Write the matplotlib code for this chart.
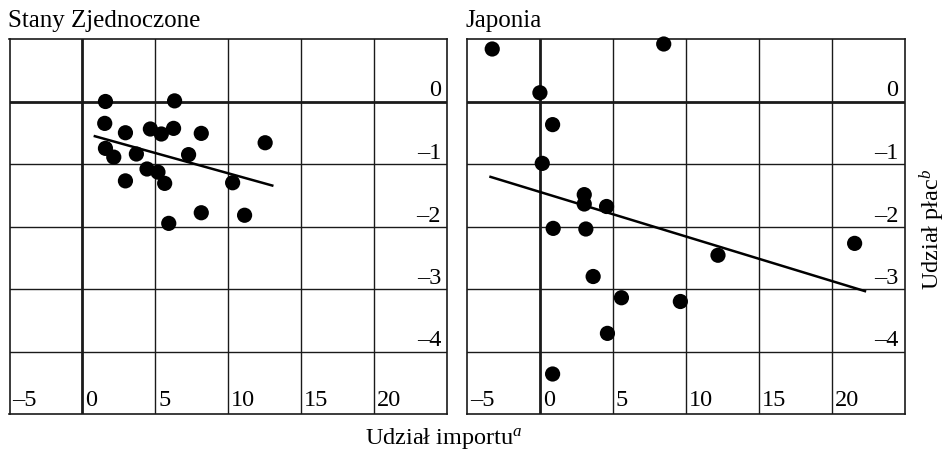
import matplotlib
matplotlib.use("Agg")
import matplotlib.pyplot as plt
import matplotlib.transforms as mtransforms

plt.rcParams['font.family'] = ['Liberation Serif', 'DejaVu Serif']
plt.rcParams['mathtext.fontset'] = 'custom'
plt.rcParams['mathtext.rm'] = 'Liberation Serif'
plt.rcParams['mathtext.it'] = 'Liberation Serif:italic'

# ---- data ----
us_x = [1.58, 6.32, 1.53, 2.95, 4.66, 5.41, 6.25, 8.15, 12.53, 1.58, 2.15,
        3.70, 7.28, 4.43, 5.18, 5.64, 2.95, 10.30, 8.15, 11.12, 5.92]
us_y = [0.00, 0.01, -0.35, -0.50, -0.44, -0.52, -0.43, -0.51, -0.66, -0.75, -0.89,
        -0.84, -0.85, -1.08, -1.13, -1.31, -1.27, -1.30, -1.78, -1.82, -1.95]
us_fit_x = [0.77, 13.1]
us_fit_y = [-0.55, -1.35]

jp_x = [-3.27, 8.49, 0.00, 0.87, 0.16, 3.04, 3.04, 4.57, 0.91, 3.15,
        21.58, 12.21, 3.65, 5.59, 9.63, 4.63, 0.87]
jp_y = [0.84, 0.92, 0.14, -0.37, -0.99, -1.49, -1.64, -1.68, -2.03, -2.04,
        -2.27, -2.46, -2.80, -3.14, -3.20, -3.71, -4.36]
jp_fit_x = [-3.47, 22.37]
jp_fit_y = [-1.20, -3.04]

x_ticks = [-5, 0, 5, 10, 15, 20]
x_labels = ['–5', '0', '5', '10', '15', '20']
y_ticks = [0, -1, -2, -3, -4]
y_labels = ['0', '–1', '–2', '–3', '–4']
grid_y = [0, -1, -2, -3, -4]
grid_x = [0, 5, 10, 15, 20]

titles = ['Stany Zjednoczone', 'Japonia']
xlabel = 'Udział importu$^{a}$'
ylabel = 'Udział płac$^{b}$'

xlim = (-5, 25)
ylim = (-5, 1)

W, H = 947, 453
fig = plt.figure(figsize=(W / 100, H / 100), dpi=100)

panels = [
    (us_x, us_y, us_fit_x, us_fit_y, 9.5),
    (jp_x, jp_y, jp_fit_x, jp_fit_y, 467),
]
ink = '#1a1a1a'
fs = 17.5
fs_title = 18
for i, (px, py, fx, fy, left_px) in enumerate(panels):
    ax = fig.add_axes([left_px / W, (H - 414) / H, 437.5 / W, 375 / H])
    ax.set_xlim(*xlim)
    ax.set_ylim(*ylim)
    ax.set_xticks([])
    ax.set_yticks([])
    for s in ax.spines.values():
        s.set_linewidth(1.2)
        s.set_color(ink)
    for gx in grid_x:
        ax.axvline(gx, color=ink, lw=2.0 if gx == 0 else 1.0, zorder=1)
    for gy in grid_y:
        ax.axhline(gy, color=ink, lw=2.0 if gy == 0 else 1.0, zorder=1)
    ax.plot(fx, fy, color='black', lw=1.8, solid_capstyle='butt', zorder=2)
    ax.scatter(px, py, s=120, color='black', edgecolors='none', zorder=3, clip_on=False)

    # x tick labels (inside, bottom, right of grid lines)
    tx = mtransforms.offset_copy(ax.transData, fig=fig, x=3, y=8, units='dots')
    for v, lab in zip(x_ticks, x_labels):
        ax.text(v, ylim[0], lab, transform=tx, ha='left', va='baseline',
                fontsize=fs, color='black')
    # y tick labels (inside, right, above grid lines)
    ty = mtransforms.blended_transform_factory(ax.transAxes, ax.transData)
    ty = mtransforms.offset_copy(ty, fig=fig, x=-6, y=5, units='dots')
    for v, lab in zip(y_ticks, y_labels):
        ax.text(1.0, v, lab, transform=ty, ha='right', va='baseline',
                fontsize=fs, color='black')

    fig.text((left_px - 1.5) / W, (H - 27) / H, titles[i], ha='left',
             va='baseline', fontsize=fs_title, color='black')

fig.text(444 / W, (H - 444) / H, xlabel, ha='center', va='baseline',
         fontsize=fs, color='black')
fig.text(932 / W, (H - 229) / H, ylabel, ha='center', va='center',
         rotation=90, fontsize=fs, color='black')

fig.savefig('out.png', dpi=100)
